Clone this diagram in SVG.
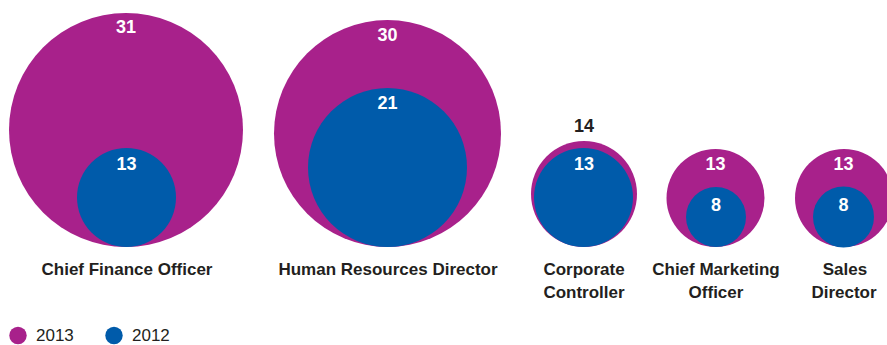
<svg xmlns="http://www.w3.org/2000/svg" width="887" height="345" viewBox="0 0 887 345">
<style>
.p{fill:#a8218b}
.b{fill:#005baa}
.v{font-family:"Liberation Sans",Arial,sans-serif;font-weight:bold;font-size:18px;fill:#ffffff;text-anchor:middle}
.vk{fill:#231f20}
.l{font-family:"Liberation Sans",Arial,sans-serif;font-weight:bold;font-size:17px;fill:#231f20;text-anchor:middle}
.g{font-family:"Liberation Sans",Arial,sans-serif;font-size:17px;fill:#231f20}
</style>
<rect width="887" height="345" fill="#ffffff"/>
<g id="cfo">
<circle class="p" cx="126" cy="130" r="117"/>
<circle class="b" cx="126.5" cy="197.5" r="49.5"/>
<text class="v" x="126" y="33">31</text>
<text class="v" x="126.5" y="170">13</text>
<text class="l" x="127" y="275">Chief Finance Officer</text>
</g>
<g id="hr">
<circle class="p" cx="387.5" cy="133.5" r="113.5"/>
<circle class="b" cx="387.5" cy="167.5" r="79.5"/>
<text class="v" x="387.5" y="41">30</text>
<text class="v" x="387.5" y="109">21</text>
<text class="l" x="388" y="275">Human Resources Director</text>
</g>
<g id="cc">
<circle class="p" cx="584" cy="194" r="53"/>
<circle class="b" cx="583.5" cy="197.5" r="49.5"/>
<text class="v vk" x="584" y="132">14</text>
<text class="v" x="584" y="170">13</text>
<text class="l" x="584" y="275">Corporate</text>
<text class="l" x="584" y="298">Controller</text>
</g>
<g id="cmo">
<circle class="p" cx="715.5" cy="198" r="49"/>
<circle class="b" cx="716" cy="217" r="30"/>
<text class="v" x="715.5" y="170">13</text>
<text class="v" x="716" y="211">8</text>
<text class="l" x="716" y="275">Chief Marketing</text>
<text class="l" x="716" y="298">Officer</text>
</g>
<g id="sales">
<circle class="p" cx="844" cy="198" r="49"/>
<circle class="b" cx="843.5" cy="217" r="30.5"/>
<text class="v" x="843.5" y="170">13</text>
<text class="v" x="843.5" y="211">8</text>
<text class="l" x="845" y="275">Sales</text>
<text class="l" x="844" y="298">Director</text>
</g>
<g id="connectors"/>
<g id="legend">
<circle class="p" cx="18" cy="335.5" r="8.7"/>
<text class="g" x="36" y="341">2013</text>
<circle class="b" cx="114" cy="335.5" r="8.7"/>
<text class="g" x="132" y="341">2012</text>
</g>
</svg>
